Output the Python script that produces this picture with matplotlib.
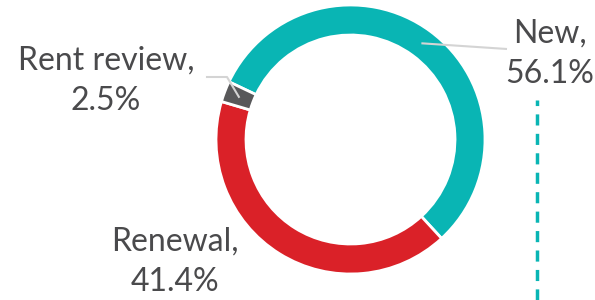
import numpy as np
import matplotlib

matplotlib.use("Agg")
import matplotlib.pyplot as plt

# lease event split
categories = ["New", "Renewal", "Rent review"]
shares = [56.1, 41.4, 2.5]
colors = ["#09b5b4", "#da2128", "#58585a"]

plt.rcParams["font.family"] = ["Lato", "DejaVu Sans"]
TEXT_COLOR = "#4a4a4c"

fig = plt.figure(figsize=(5.95, 3.0), dpi=100)
ax = fig.add_axes([0, 0, 1, 1])

cx, cy, r = 350.5, 160.5, 134.5
width = 30
wedges, _ = ax.pie(
    shares,
    colors=colors,
    startangle=154.6,
    counterclock=False,
    center=(cx, cy),
    radius=r,
    wedgeprops=dict(width=width, edgecolor="white", linewidth=2),
)
ax.set_xlim(0, 595)
ax.set_ylim(0, 300)
ax.set_aspect("equal")
ax.axis("off")

# label text positions (pixels, y up)
label_pos = {"New": (550, 246), "Renewal": (175, 38), "Rent review": (106, 219)}
for cat, val in zip(categories, shares):
    x, y = label_pos[cat]
    ax.text(x, y, f"{cat},\n{val}%", ha="center", va="center",
            fontsize=23, color=TEXT_COLOR, linespacing=1.44)

# leader lines from wedge middle
mid_r = r - width / 2
for w, cat in zip(wedges, categories):
    ang = np.deg2rad((w.theta1 + w.theta2) / 2)
    px, py = cx + mid_r * np.cos(ang), cy + mid_r * np.sin(ang)
    if cat == "New":
        ax.plot([px, 507], [py, 251], color="#d4d4d4", lw=1.5, solid_capstyle="butt")
    elif cat == "Rent review":
        ax.plot([px, 227, 207], [py, 223, 223], color="#d4d4d4", lw=1.5)

ax.plot([537, 537], [0, 200], color="#09b5b4", lw=2.5, ls=(0, (3.2, 2.4)))

fig.savefig("out.png", dpi=100)
